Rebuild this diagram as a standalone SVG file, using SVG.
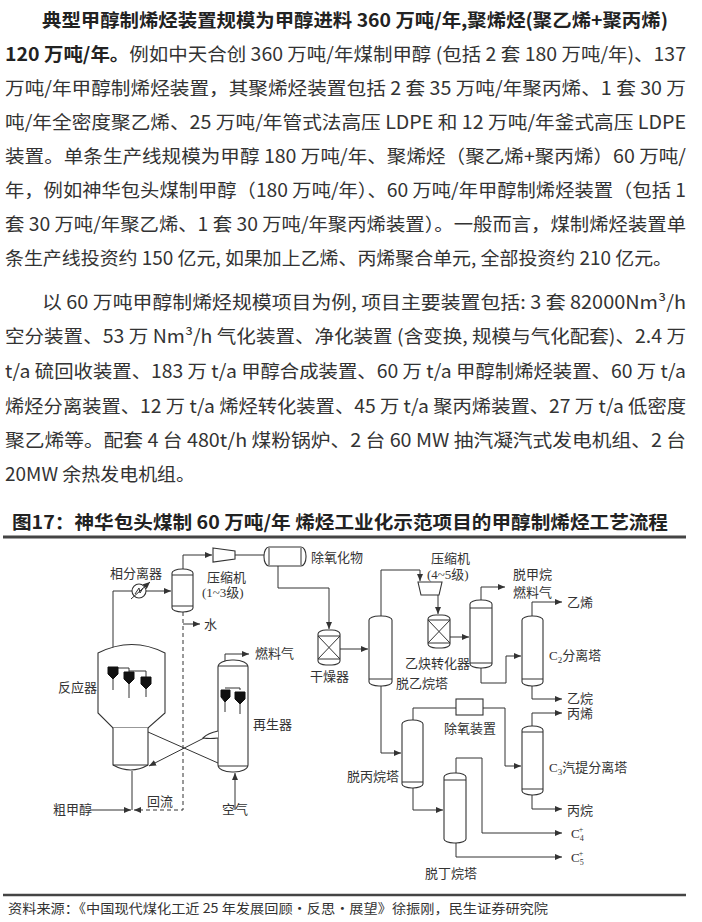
<svg xmlns="http://www.w3.org/2000/svg" width="702" height="922" viewBox="0 0 702 922">
<defs>
<marker id="ar" markerWidth="8" markerHeight="6" refX="7" refY="3" orient="auto" markerUnits="userSpaceOnUse"><path d="M0,0 L7,3 L0,6 z" fill="#333"/></marker>
<style>
.t{font-family:"Noto Sans CJK SC","Liberation Sans",sans-serif;font-size:18.5px;fill:#333}
.b{font-weight:bold;fill:#222}
.d{font-family:"Liberation Serif","Noto Sans CJK SC",serif;font-size:13px;fill:#333}
.s{fill:none;stroke:#333;stroke-width:1}
.v{fill:#fff;stroke:#333;stroke-width:1.1}
.c{fill:none;stroke:#333;stroke-width:1;marker-end:url(#ar)}
.k{fill:#111;stroke:#111}
</style>
</defs>
<rect width="702" height="922" fill="#fff"/>
<g id="body">
<text class="t b" x="42" y="27" textLength="626" lengthAdjust="spacingAndGlyphs">典型甲醇制烯烃装置规模为甲醇进料 360 万吨/年,聚烯烃(聚乙烯+聚丙烯)</text>
<text class="t" x="5" y="61" textLength="681" lengthAdjust="spacingAndGlyphs"><tspan class="b">120 万吨/年。</tspan>例如中天合创 360 万吨/年煤制甲醇 (包括 2 套 180 万吨/年)、137</text>
<text class="t" x="5" y="95" textLength="681" lengthAdjust="spacingAndGlyphs">万吨/年甲醇制烯烃装置，其聚烯烃装置包括 2 套 35 万吨/年聚丙烯、1 套 30 万</text>
<text class="t" x="5" y="129" textLength="681" lengthAdjust="spacingAndGlyphs">吨/年全密度聚乙烯、25 万吨/年管式法高压 LDPE 和 12 万吨/年釜式高压 LDPE</text>
<text class="t" x="5" y="163" textLength="681" lengthAdjust="spacingAndGlyphs">装置。单条生产线规模为甲醇 180 万吨/年、聚烯烃（聚乙烯+聚丙烯）60 万吨/</text>
<text class="t" x="5" y="197" textLength="681" lengthAdjust="spacingAndGlyphs">年，例如神华包头煤制甲醇（180 万吨/年）、60 万吨/年甲醇制烯烃装置（包括 1</text>
<text class="t" x="5" y="231" textLength="681" lengthAdjust="spacingAndGlyphs">套 30 万吨/年聚乙烯、1 套 30 万吨/年聚丙烯装置）。一般而言，煤制烯烃装置单</text>
<text class="t" x="5" y="265" textLength="667" lengthAdjust="spacingAndGlyphs">条生产线投资约 150 亿元, 如果加上乙烯、丙烯聚合单元, 全部投资约 210 亿元。</text>
<text class="t" x="42" y="309" textLength="644" lengthAdjust="spacingAndGlyphs">以 60 万吨甲醇制烯烃规模项目为例, 项目主要装置包括: 3 套 82000Nm³/h</text>
<text class="t" x="5" y="343" textLength="681" lengthAdjust="spacingAndGlyphs">空分装置、53 万 Nm³/h 气化装置、净化装置 (含变换, 规模与气化配套)、2.4 万</text>
<text class="t" x="5" y="378" textLength="681" lengthAdjust="spacingAndGlyphs">t/a 硫回收装置、183 万 t/a 甲醇合成装置、60 万 t/a 甲醇制烯烃装置、60 万 t/a</text>
<text class="t" x="5" y="413" textLength="681" lengthAdjust="spacingAndGlyphs">烯烃分离装置、12 万 t/a 烯烃转化装置、45 万 t/a 聚丙烯装置、27 万 t/a 低密度</text>
<text class="t" x="5" y="447" textLength="681" lengthAdjust="spacingAndGlyphs">聚乙烯等。配套 4 台 480t/h 煤粉锅炉、2 台 60 MW 抽汽凝汽式发电机组、2 台</text>
<text class="t" x="5" y="481" textLength="190" lengthAdjust="spacingAndGlyphs">20MW 余热发电机组。</text>
<text class="t b" x="12" y="529" textLength="656" lengthAdjust="spacingAndGlyphs">图17：神华包头煤制 60 万吨/年 烯烃工业化示范项目的甲醇制烯烃工艺流程</text>
<line x1="3" y1="537" x2="686" y2="537" stroke="#444" stroke-width="3"/>
<line x1="3" y1="895" x2="686" y2="895" stroke="#444" stroke-width="2.5"/>
<text class="t" x="8" y="913" style="font-size:13px" textLength="540" lengthAdjust="spacingAndGlyphs">资料来源：《中国现代煤化工近 25 年发展回顾·反思·展望》徐振刚，民生证券研究院</text>
</g>
<g id="connectors">
<path class="c" d="M183,569 V555 H212"/>
<path class="s" d="M235,555 H264"/>
<path class="c" d="M278,566 V588 H329 V629"/>
<path class="c" d="M113,673 V591 H171"/>
<path class="c" d="M183,624 H200"/>
<path class="c" d="M183,612 V810 H134" stroke-dasharray="4,3"/>
<path class="c" d="M90,810 H131"/>
<path class="s" d="M132,810 V771"/>
<path class="c" d="M225,690 V654 H249"/>
<path class="c" d="M235,810 V773"/>
<path class="s" d="M148,732 L218,763"/>
<path class="c" d="M204,738 L149,766"/>
<path class="c" d="M340,649 H368"/>
<path class="c" d="M381,616 V570 H420 V581"/>
<path class="c" d="M438,595 V614"/>
<path class="c" d="M450,637 H469"/>
<path class="c" d="M481,600 V587 H505"/>
<path class="c" d="M481,668 V683 H506 V656 H521"/>
<path class="c" d="M532,616 V602 H562"/>
<path class="c" d="M532,686 V699 H562"/>
<path class="c" d="M381,686 V753 H401"/>
<path class="s" d="M413,720 V708 H456"/>
<path class="c" d="M483,708 H505 V766 H521"/>
<path class="c" d="M532,726 V713 H562"/>
<path class="c" d="M532,795 V809 H562"/>
<path class="c" d="M413,788 V810 H443"/>
<path class="c" d="M456,773 V758 H482 V833 H562"/>
<path class="c" d="M456,843 V857 H562"/>
</g>
<g id="separator"><rect class="v" x="172" y="569" width="21" height="43" rx="10" ry="4"/><line class="s" x1="172" y1="575" x2="193" y2="575"/><line class="s" x1="172" y1="606" x2="193" y2="606"/><text class="d" x="110" y="578">相分离器</text></g>
<g id="exchanger"><circle class="v" cx="139" cy="591" r="7"/><path class="s" d="M135,594 L139,588 L140,593 L143,588"/><path class="c" d="M131,599 L150,582"/></g>
<g id="comp1"><path class="v" d="M213,548 L235,551 L235,559 L213,562 Z"/><text class="d" x="207" y="582">压缩机</text><text class="d" x="202" y="597">(1~3级)</text></g>
<g id="drum"><rect class="v" x="264" y="547" width="42" height="19" rx="5" ry="9"/><line class="s" x1="269" y1="548" x2="269" y2="565"/><line class="s" x1="301" y1="548" x2="301" y2="565"/><text class="d" x="311" y="562">除氧化物</text></g>
<g id="water"><text class="d" x="204" y="629">水</text></g>
<g id="reactor"><path class="v" d="M98,713 V653 Q132,636 165,653 V713 L148,728 H113 L98,713 Z"/><path class="v" d="M113,728 V765 Q131,775 148,765 V728"/><line class="s" x1="113" y1="765" x2="148" y2="765"/>
<path class="s" d="M113,668 H129 V672 M129,671 H146 V677"/>
<path class="k" d="M108,667 H118 V674 L113,679 L108,674 Z"/><line class="s" x1="113" y1="679" x2="113" y2="690"/>
<path class="k" d="M124,672 H134 V679 L129,684 L124,679 Z"/><line class="s" x1="129" y1="684" x2="129" y2="698"/>
<path class="k" d="M141,677 H151 V684 L146,689 L141,684 Z"/><line class="s" x1="146" y1="689" x2="146" y2="697"/>
<text class="d" x="58" y="692">反应器</text></g>
<g id="regenerator"><rect class="v" x="218" y="660" width="30" height="112" rx="14" ry="7"/><line class="s" x1="218" y1="666" x2="248" y2="666"/><line class="s" x1="218" y1="766" x2="248" y2="766"/>
<path class="v" d="M218,731 Q208,733 203,738 Q210,739 218,738"/>
<path class="s" d="M225,688 H240 V690"/>
<path class="k" d="M221,690 H230 V697 L225,702 L221,697 Z"/><line class="s" x1="225" y1="702" x2="225" y2="712"/>
<path class="k" d="M235,692 H245 V699 L240,704 L235,699 Z"/><line class="s" x1="240" y1="704" x2="240" y2="714"/>
<text class="d" x="253" y="729">再生器</text><text class="d" x="255" y="658">燃料气</text></g>
<g id="labels-left"><text class="d" x="53" y="814">粗甲醇</text><text class="d" x="147" y="806">回流</text><text class="d" x="222" y="814">空气</text></g>
<g id="dryer"><rect class="v" x="318" y="630" width="22" height="35" rx="8" ry="4"/><line class="s" x1="318" y1="636" x2="340" y2="636"/><line class="s" x1="318" y1="659" x2="340" y2="659"/><path class="s" d="M318,636 L340,659 M340,636 L318,659"/><text class="d" x="310" y="681">干燥器</text></g>
<g id="deethanizer"><rect class="v" x="369" y="616" width="23" height="70" rx="10" ry="4"/><line class="s" x1="369" y1="679" x2="392" y2="679"/><text class="d" x="396" y="688">脱乙烷塔</text></g>
<g id="comp2"><path class="v" d="M418,582 L442,582 L439,595 L421,595 Z"/><text class="d" x="431" y="563">压缩机</text><text class="d" x="427" y="579">(4~5级)</text></g>
<g id="converter"><rect class="v" x="428" y="615" width="22" height="33" rx="8" ry="4"/><line class="s" x1="428" y1="620" x2="450" y2="620"/><line class="s" x1="428" y1="643" x2="450" y2="643"/><path class="s" d="M428,620 L450,643 M450,620 L428,643"/><text class="d" x="405" y="668">乙炔转化器</text></g>
<g id="demethanizer"><rect class="v" x="470" y="600" width="22" height="68" rx="10" ry="4"/><line class="s" x1="470" y1="608" x2="492" y2="608"/><line class="s" x1="470" y1="663" x2="492" y2="663"/><text class="d" x="513" y="579">脱甲烷</text><text class="d" x="513" y="597">燃料气</text></g>
<g id="c2split"><rect class="v" x="522" y="616" width="21" height="70" rx="10" ry="4"/><line class="s" x1="522" y1="679" x2="543" y2="679"/><text class="d" x="549" y="660">C<tspan font-size="9" dy="3">2</tspan><tspan dy="-3">分离塔</tspan></text><text class="d" x="567" y="607">乙烯</text><text class="d" x="567" y="703">乙烷</text></g>
<g id="deoxy"><rect class="v" x="456" y="699" width="27" height="16"/><text class="d" x="444" y="733">除氧装置</text></g>
<g id="depropanizer"><rect class="v" x="402" y="720" width="21" height="68" rx="10" ry="4"/><line class="s" x1="402" y1="782" x2="423" y2="782"/><text class="d" x="347" y="781">脱丙烷塔</text></g>
<g id="c3split"><rect class="v" x="522" y="726" width="21" height="69" rx="10" ry="4"/><line class="s" x1="522" y1="732" x2="543" y2="732"/><line class="s" x1="522" y1="789" x2="543" y2="789"/><text class="d" x="549" y="772">C<tspan font-size="9" dy="3">3</tspan><tspan dy="-3">汽提分离塔</tspan></text><text class="d" x="567" y="718">丙烯</text><text class="d" x="567" y="815">丙烷</text></g>
<g id="debutanizer"><rect class="v" x="444" y="773" width="22" height="70" rx="10" ry="4"/><line class="s" x1="444" y1="780" x2="466" y2="780"/><text class="d" x="425" y="878">脱丁烷塔</text>
<text class="d" x="571" y="838">C<tspan font-size="8" dy="3">4</tspan><tspan font-size="8" dx="-5" dy="-9">+</tspan></text>
<text class="d" x="571" y="862">C<tspan font-size="8" dy="3">5</tspan><tspan font-size="8" dx="-5" dy="-9">+</tspan></text></g>
</svg>
